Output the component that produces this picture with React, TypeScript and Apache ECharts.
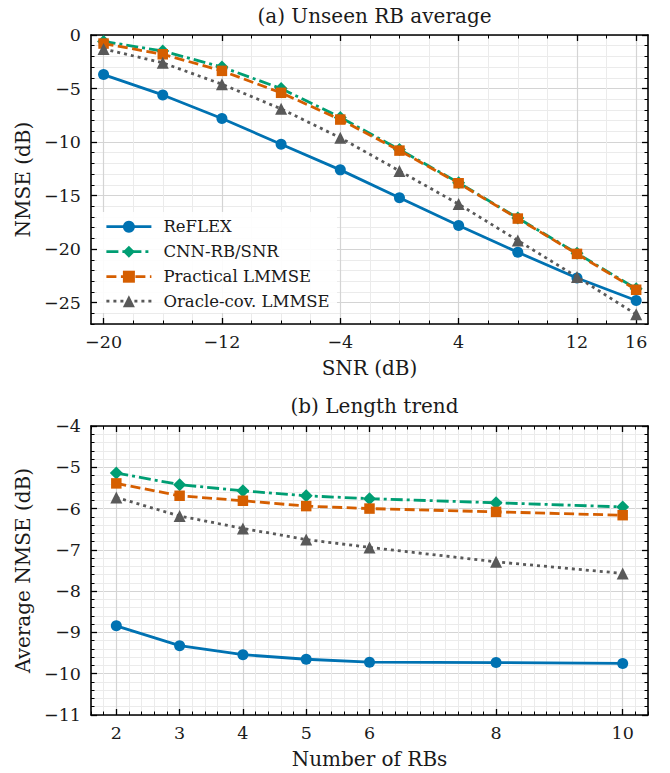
import React, { useEffect, useRef } from 'react';
import * as echarts from 'echarts';

// ---- Data: (a) Unseen RB average ----
const snrDb = [-20, -16, -12, -8, -4, 0, 4, 8, 12, 16];
const reflexA = [-3.7, -5.6, -7.8, -10.2, -12.6, -15.2, -17.8, -20.3, -22.7, -24.8];
const cnnA = [-0.6, -1.5, -3.0, -5.0, -7.7, -10.7, -13.8, -17.1, -20.4, -23.7];
const practicalA = [-0.8, -1.8, -3.35, -5.4, -7.9, -10.8, -13.85, -17.15, -20.45, -23.8];
const oracleA = [-1.3, -2.6, -4.6, -6.9, -9.6, -12.7, -15.8, -19.2, -22.6, -26.1];

// ---- Data: (b) Length trend ----
const numRBs = [2, 3, 4, 5, 6, 8, 10];
const reflexB = [-8.84, -9.32, -9.54, -9.65, -9.72, -9.73, -9.75];
const cnnB = [-5.14, -5.42, -5.57, -5.69, -5.76, -5.86, -5.96];
const practicalB = [-5.39, -5.69, -5.81, -5.94, -6.0, -6.08, -6.16];
const oracleB = [-5.73, -6.18, -6.48, -6.75, -6.94, -7.29, -7.57];

// ---- Tick labels ----
const xTicksA = [-20, -12, -4, 4, 12, 16];
const yTicksA = [0, -5, -10, -15, -20, -25];
const xTicksB = [2, 3, 4, 5, 6, 8, 10];
const yTicksB = [-4, -5, -6, -7, -8, -9, -10, -11];

const seriesNames = ['ReFLEX', 'CNN-RB/SNR', 'Practical LMMSE', 'Oracle-cov. LMMSE'];

const FONT = "'DejaVu Serif', serif";
const COLORS = ['#0072B2', '#009E73', '#D55E00', '#595959'];
const SYMBOLS = ['circle', 'diamond', 'rect', 'triangle'];
const SYMBOL_SIZES = [11, 13, 10.5, 12];
const DASHES: any[] = ['solid', [12, 4, 3, 4], [10, 4.5], [3, 4]];
const LINE_W = 2.8;

function range(start: number, end: number, step: number): number[] {
  const out: number[] = [];
  const n = Math.round((end - start) / step);
  for (let i = 0; i <= n; i++) out.push(Math.round((start + i * step) * 1000) / 1000);
  return out;
}

const fmt = (v: any) => String(v).replace('-', '\u2212');

function axesFor(
  dim: 'x' | 'y',
  gridIndex: number,
  min: number,
  max: number,
  major: number[],
  minor: number[],
  name: string,
  nameGap: number
) {
  const sideA = dim === 'x' ? 'bottom' : 'left';
  const sideB = dim === 'x' ? 'top' : 'right';
  const base = { type: 'value', gridIndex, min, max, scale: true };
  const minorAxis = (pos: string, grid: boolean) => ({
    ...base,
    position: pos,
    axisLine: { show: false, onZero: false },
    axisTick: { show: true, inside: true, length: 3.5, customValues: minor, lineStyle: { color: '#000', width: 1 } },
    axisLabel: { show: false },
    splitLine: { show: grid, lineStyle: { color: '#ebebeb', width: 1 } },
  });
  const majorAxis = (pos: string, labeled: boolean) => ({
    ...base,
    position: pos,
    name: labeled ? name : '',
    nameLocation: 'middle',
    nameGap,
    nameRotate: dim === 'y' ? 90 : 0,
    nameTextStyle: { fontFamily: FONT, fontSize: 20, color: '#1a1a1a' },
    axisLine: { show: true, onZero: false, lineStyle: { color: '#000', width: 1.6 } },
    axisTick: { show: true, inside: true, length: 6, customValues: major, lineStyle: { color: '#000', width: 1.3 } },
    axisLabel: {
      show: labeled,
      customValues: major,
      formatter: fmt,
      fontFamily: FONT,
      fontSize: 17.5,
      color: '#1a1a1a',
      margin: dim === 'x' ? 9 : 10,
    },
    splitLine: { show: labeled, lineStyle: { color: '#d4d4d4', width: 1.2 } },
  });
  return [minorAxis(sideA, true), majorAxis(sideA, true), minorAxis(sideB, false), majorAxis(sideB, false)];
}

function makeSeries(xs: number[], ys: number[][], xAxisIndex: number, yAxisIndex: number) {
  return ys.map((vals, i) => ({
    type: 'line',
    name: seriesNames[i],
    xAxisIndex,
    yAxisIndex,
    data: xs.map((x, j) => [x, vals[j]]),
    symbol: SYMBOLS[i],
    symbolSize: SYMBOL_SIZES[i],
    showSymbol: true,
    lineStyle: { color: COLORS[i], width: LINE_W, type: DASHES[i] },
    itemStyle: { color: COLORS[i], borderWidth: 0 },
    z: 3 + i,
  }));
}

const LEGEND_ROW_CENTERS = [225.7, 250.7, 275.7, 300.2];

export default function App() {
  const ref = useRef<HTMLDivElement>(null);
  useEffect(() => {
    if (!ref.current) return;
    const chart = echarts.init(ref.current, undefined, { renderer: 'svg' });

    const xA = axesFor('x', 0, -20.85, 16.8, xTicksA, range(-20, 16, 2), 'SNR (dB)', 34);
    const yA = axesFor('y', 0, -27, 0, yTicksA, range(-27, 0, 1), 'NMSE (dB)', 55);
    const xB = axesFor('x', 1, 1.6, 10.4, xTicksB, range(1.6, 10.4, 0.2), 'Number of RBs', 34);
    const yB = axesFor('y', 1, -11, -4, yTicksB, range(-11, -4, 0.2), 'Average NMSE (dB)', 55);

    const legends = seriesNames.map((n, i) => ({
      data: [n],
      orient: 'vertical',
      left: 105,
      top: LEGEND_ROW_CENTERS[i] - 7.5,
      itemWidth: 45,
      itemHeight: 15,
      padding: 0,
      lineStyle: { width: LINE_W },
      textStyle: { fontFamily: FONT, fontSize: 16.5, color: '#1a1a1a', padding: [0, 0, 0, 7] },
    }));

    const option: any = {
      animation: false,
      backgroundColor: '#ffffff',
      textStyle: { fontFamily: FONT },
      title: [
        {
          text: '(a) Unseen RB average',
          left: 369.5,
          top: 1,
          textAlign: 'center',
          textStyle: { fontFamily: FONT, fontSize: 20, fontWeight: 'normal', color: '#1a1a1a' },
        },
        {
          text: '(b) Length trend',
          left: 369.5,
          top: 391,
          textAlign: 'center',
          textStyle: { fontFamily: FONT, fontSize: 20, fontWeight: 'normal', color: '#1a1a1a' },
        },
      ],
      grid: [
        { left: 91, top: 35, width: 557, height: 289 },
        { left: 91, top: 426, width: 557, height: 289 },
      ],
      graphic: [
        {
          type: 'rect',
          z: 1,
          silent: true,
          shape: { x: 97, y: 212, width: 240, height: 101 },
          style: { fill: 'rgba(255,255,255,0.9)', stroke: 'none' },
        },
      ],
      xAxis: [...xA, ...xB],
      yAxis: [...yA, ...yB],
      legend: legends,
      series: [
        ...makeSeries(snrDb, [reflexA, cnnA, practicalA, oracleA], 1, 1),
        ...makeSeries(numRBs, [reflexB, cnnB, practicalB, oracleB], 5, 5),
      ],
    };
    chart.setOption(option);
    return () => chart.dispose();
  }, []);

  return (
    <div
      ref={ref}
      style={{ position: 'fixed', left: 0, top: 0, width: 670, height: 773, background: '#fff' }}
    />
  );
}
